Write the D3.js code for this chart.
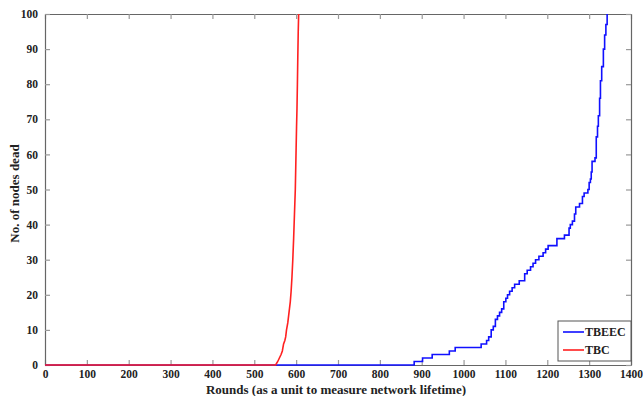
<!DOCTYPE html>
<html>
<head>
<meta charset="utf-8">
<script src="https://cdn.jsdelivr.net/npm/d3@7"></script>
<style>
  body { margin: 0; background: #fff; }
  svg text { font-family: "Liberation Serif", "Times New Roman", serif; font-weight: bold; }
</style>
</head>
<body>
<svg id="chart" width="643" height="396"></svg>
<script>
// Rounds vs. number of dead nodes
const tbeecRounds = [0, 880, 882, 902, 925, 966, 980, 1042, 1055, 1060, 1066, 1071, 1076, 1081, 1086, 1091, 1096, 1101, 1105, 1110, 1116, 1122, 1133, 1146, 1152, 1160, 1166, 1172, 1180, 1190, 1196, 1202, 1223, 1241, 1252, 1255, 1260, 1265, 1268, 1277, 1284, 1288, 1297, 1300, 1303, 1305, 1307, 1314, 1317, 1320, 1322, 1325, 1327, 1330, 1334, 1337, 1340, 1343];
const tbeecDead   = [0, 0, 1, 2, 3, 4, 5, 6, 7, 8, 10, 11, 13, 14, 15, 16, 18, 19, 20, 21, 22, 23, 24, 26, 27, 28, 29, 30, 31, 32, 33, 34, 36, 37, 39, 40, 41, 43, 45, 46, 48, 49, 50, 52, 53, 55, 58, 59, 65, 68, 71, 76, 81, 85, 90, 94, 97, 100];

const tbcRounds = [0, 551, 556, 560, 564, 567, 570, 573, 575, 577, 580, 582, 584, 586, 588, 590, 592, 594, 596, 598, 599, 600, 601, 602, 603, 604, 605, 606];
const tbcDead   = [0, 0, 1, 2, 3, 4, 6, 7, 8, 10, 12, 14, 16, 18, 21, 25, 30, 36, 43, 50, 56, 62, 68, 73, 80, 88, 95, 100];

const xTicks = d3.range(0, 1401, 100);
const yTicks = d3.range(0, 101, 10);

const SERIES = [
  { name: 'TBEEC', color: '#1010ff', rounds: tbeecRounds, dead: tbeecDead, curve: d3.curveStepAfter },
  { name: 'TBC', color: '#ff2020', rounds: tbcRounds, dead: tbcDead, curve: d3.curveLinear }
];

const m = { top: 14, right: 12, bottom: 31, left: 45 };
const W = 643, H = 396;
const w = W - m.left - m.right;
const h = H - m.top - m.bottom;

const svg = d3.select('#chart');
const g = svg.append('g').attr('transform', `translate(${m.left},${m.top})`);

const x = d3.scaleLinear().domain([0, 1400]).range([0, w]);
const y = d3.scaleLinear().domain([0, 100]).range([h, 0]);

// ─── AXES (MATLAB-style box with inward ticks) ───
const tickLen = 5;
const styleAxis = (sel) => {
  sel.select('.domain').attr('stroke', '#666').attr('stroke-width', 1.2);
  sel.selectAll('.tick line').attr('stroke', '#999').attr('stroke-width', 1.2);
  sel.selectAll('.tick text').attr('fill', '#222').attr('font-size', '11.5px');
};

g.append('g').attr('transform', `translate(0,${h})`)
  .call(d3.axisBottom(x).tickValues(xTicks).tickFormat(d3.format('d'))
    .tickSizeInner(-tickLen).tickSizeOuter(0).tickPadding(5))
  .call(styleAxis);
g.append('g')
  .call(d3.axisTop(x).tickValues(xTicks).tickSizeInner(-tickLen).tickSizeOuter(0).tickFormat(''))
  .call(styleAxis);
g.append('g')
  .call(d3.axisLeft(y).tickValues(yTicks).tickSizeInner(-tickLen).tickSizeOuter(0).tickPadding(7))
  .call(styleAxis);
g.append('g').attr('transform', `translate(${w},0)`)
  .call(d3.axisRight(y).tickValues(yTicks).tickSizeInner(-tickLen).tickSizeOuter(0).tickFormat(''))
  .call(styleAxis);

// ─── LINES ───
SERIES.forEach(s => {
  const pts = s.rounds.map((r, i) => [r, s.dead[i]]);
  g.append('path')
    .attr('d', d3.line().x(d => x(d[0])).y(d => y(d[1])).curve(s.curve)(pts))
    .attr('fill', 'none')
    .attr('stroke', s.color)
    .attr('stroke-width', 1.6);
});

// ─── LEGEND ───
const lg = g.append('g').attr('transform', `translate(${w - 73},${h - 44})`);
lg.append('rect').attr('width', 73).attr('height', 40)
  .attr('fill', '#fff').attr('stroke', '#555').attr('stroke-width', 1);
SERIES.forEach((s, i) => {
  const yy = 11 + i * 18;
  lg.append('line').attr('x1', 5).attr('x2', 26).attr('y1', yy).attr('y2', yy)
    .attr('stroke', s.color).attr('stroke-width', 1.6);
  lg.append('text').attr('x', 27).attr('y', yy + 4)
    .attr('font-size', '12px').attr('fill', '#222').text(s.name);
});

// ─── AXIS TITLES ───
svg.append('text')
  .attr('x', m.left + w / 2 - 2).attr('y', H - 2)
  .attr('text-anchor', 'middle').attr('font-size', '13px').attr('fill', '#222')
  .text('Rounds (as a unit to measure network lifetime)');
svg.append('text')
  .attr('transform', `translate(19,${m.top + h / 2 + 4}) rotate(-90)`)
  .attr('text-anchor', 'middle').attr('font-size', '13px').attr('fill', '#222')
  .text('No. of nodes dead');
</script>
</body>
</html>
